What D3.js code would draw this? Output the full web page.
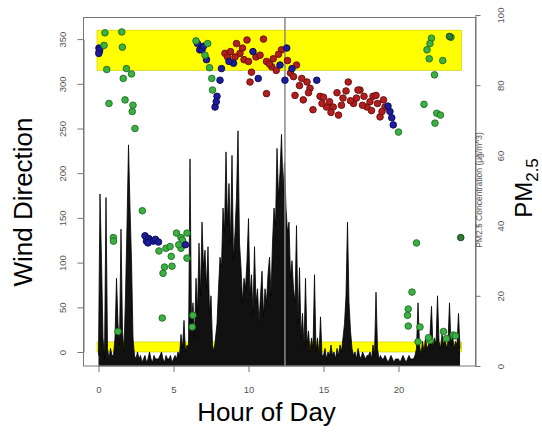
<!DOCTYPE html>
<html><head><meta charset="utf-8">
<script src="https://cdn.jsdelivr.net/npm/d3@7"></script>
<style>
html,body{margin:0;padding:0;background:#fff;}
svg{display:block;font-family:"Liberation Sans",Arial,sans-serif;}
</style></head>
<body><svg id="c" width="542" height="436"></svg>
<script>
// ---- data ----
const hourTicks = [0, 5, 10, 15, 20];
const dirTicks = [0, 50, 100, 150, 200, 250, 300, 350];
const pmTicks = [0, 20, 40, 60, 80, 100];
const dirBands = [[315, 360], [0, 11.25]];
const bandHours = [-0.1, 24.2];
const markerHour = 12.43;

// PM2.5 concentration, one value every 0.1 h from 0.0 to 24.1
const pmValues = [
  3,49,30,8,2,48,5,2,5,3,
  3,8,25,12,6,39,10,4,20,40,
  63,45,30,8,3,2,4,2,3,1,
  2,3,1,2,4,2,1,3,2,2,
  2,3,4,2,1,3,2,2,3,1,
  2,3,2,4,3,9,5,13,4,6,
  5,59,12,18,8,25,15,35,20,41,
  28,33,22,34,15,20,6,4,8,12,
  22,31,28,45,38,61,40,52,35,60,
  30,38,48,67,35,28,18,25,22,30,
  42,20,26,15,34,18,22,12,20,27,
  14,22,18,26,31,20,35,45,40,62,
  48,55,66,50,58,45,38,41,25,30,
  22,18,40,12,28,8,15,5,25,6,
  10,4,8,5,26,4,8,3,14,3,
  3,5,2,4,3,6,3,4,2,5,
  3,6,4,8,12,20,41,18,10,5,
  3,4,2,5,3,2,4,3,2,3,
  3,4,2,6,3,21,5,2,3,2,
  2,3,2,1,2,3,2,1,2,2,
  2,1,2,3,2,1,2,3,2,2,
  2,3,5,18,6,3,7,4,8,5,
  6,9,17,5,8,6,20,7,5,9,
  6,8,5,7,18,6,9,5,7,6,
  15,5
];
const pmHours = pmValues.map((v, i) => i / 10);

// wind direction observations
const windHours = [
  0.03,0.05,0.08,0.02,
  0.43,0.37,0.55,0.7,1.55,1.59,1.86,2.2,1.65,1.77,2.3,2.25,2.43,0.99,1.0,1.3,
  2.92,
  3.1,3.2,3.35,3.5,3.65,3.8,3.3,4.0,
  4.03,4.4,4.3,4.5,4.77,4.85,4.9,5.2,5.5,5.5,5.9,5.9,5.6,5.35,4.25,6.3,6.25,
  5.8,
  6.6,6.75,6.9,7.2,8.2,8.1,7.9,7.77,7.0,7.85,
  7.28,7.1,7.4,7.55,7.6,6.5,
  8.43,8.6,8.8,9.2,9.43,9.6,9.9,9.1,9.7,10.0,10.2,10.1,10.5,10.77,11.0,11.2,11.55,11.65,11.2,11.4,11.85,12.2,12.0,
  13.2,13.1,13.55,13.9,13.65,14.1,14.3,14.77,12.8,13.0,13.4,12.6,14.0,
  9.0,10.3,10.65,12.55,12.1,12.43,12.9,14.55,8.7,
  15.2,15.65,16.0,16.3,16.65,17.0,17.43,17.9,18.3,18.77,19.1,18.9,17.3,18.5,15.0,15.4,15.9,16.5,16.8,17.2,17.6,18.1,18.6,19.0,14.9,15.5,16.2,17.7,18.2,
  19.43,19.65,19.3,19.55,
  20.0,
  22.2,22.1,21.9,22.05,22.95,22.4,23.5,21.7,22.55,22.8,22.43,21.2,20.9,20.65,20.6,20.65,21.43,21.3,23.0,23.2,23.65,22.1,23.8,22.0,
  23.4,24.15
];
const windDirs = [
  340,336,338,334,
  357,343,316,278,358,341,317,311,306,282,276,269,250,128,124,23,
  158,
  130,124,127,125,124,126,122,123,
  113,95,88,116,118,107,96,133,128,116,133,105,125,120,38,41,28,
  120,
  345,338,338,327,317,304,286,274,342,280,
  345,332,318,306,293,348,
  334,330,336,345,334,340,349,330,327,325,313,302,330,332,350,325,319,328,289,322,315,338,333,
  321,287,306,302,282,295,271,286,312,308,298,326,290,
  323,336,306,340,321,304,317,304,325,
  274,274,265,284,302,278,293,274,286,263,274,269,293,287,285,280,290,292,281,284,276,280,278,282,278,268,276,286,270,
  269,254,275,262,
  246,
  351,345,338,328,326,310,352,277,267,265,256,122,67,48,41,29,28,11.5,23,15,19,13,18,16,
  353,128
];
const windGroups = [
  "b","b","b","b",
  "g","g","g","g","g","g","g","g","g","g","g","g","g","g","g","g",
  "g",
  "b","b","b","b","b","b","b","b",
  "g","g","g","g","g","g","g","g","g","g","g","g","g","g","g","g","g",
  "b",
  "b","b","b","b","b","b","b","b","b","b",
  "g","g","g","g","g","g",
  "r","r","r","r","r","r","r","r","r","r","r","r","r","r","r","r","r","r","r","r","r","r","r",
  "r","r","r","r","r","r","r","r","r","r","r","r","r",
  "b","b","b","b","b","b","b","b","b",
  "r","r","r","r","r","r","r","r","r","r","r","r","r","r","r","r","r","r","r","r","r","r","r","r","r","r","r","r","r",
  "b","b","b","b",
  "g",
  "g","g","g","g","g","g","g","g","g","g","g","g","g","g","g","g","g","g","g","g","g","g","g","g",
  "d","d"
];
const groupFill = {g: "#3cb043", b: "#1c1c9c", r: "#b01e1e", d: "#2e7d32"};
const groupStroke = {g: "#1f6e22", b: "#0a0a55", r: "#6a0d0d", d: "#173f18"};

// ---- drawing ----
const svg = d3.select("#c");
const x = d3.scaleLinear().domain([0, 24]).range([98.5, 458.5]);
const yDir = d3.scaleLinear().domain([0, 350]).range([352, 39.1]);
const yPm = d3.scaleLinear().domain([0, 100]).range([366, 15]);
const box = {l: 83.5, r: 475.5, t: 17.5, b: 366};

// yellow bands
svg.append("g").selectAll("rect").data(dirBands).join("rect")
  .attr("x", x(bandHours[0])).attr("width", x(bandHours[1]) - x(bandHours[0]))
  .attr("y", d => yDir(d[1])).attr("height", d => yDir(d[0]) - yDir(d[1]))
  .attr("fill", "#ffff00").attr("stroke", "#c8c800").attr("stroke-width", 0.6);

// PM2.5 series
const pmData = pmValues.map((v, i) => [pmHours[i], v]);
svg.append("path").datum(pmData)
  .attr("d", d3.area().x(d => x(d[0])).y0(yPm(0)).y1(d => yPm(d[1])))
  .attr("fill", "#111");
svg.append("path").datum(pmData)
  .attr("d", d3.line().x(d => x(d[0])).y(d => yPm(d[1])))
  .attr("fill", "none").attr("stroke", "#000").attr("stroke-width", 0.8);

// marker line
svg.append("line")
  .attr("x1", x(markerHour)).attr("x2", x(markerHour))
  .attr("y1", box.t).attr("y2", box.b)
  .attr("stroke", "#8a8a8a").attr("stroke-width", 1.5);

// wind direction points
svg.append("g").selectAll("circle").data(windHours.map((h, i) => ({h, d: windDirs[i], g: windGroups[i]})))
  .join("circle")
  .attr("cx", d => x(d.h)).attr("cy", d => yDir(d.d)).attr("r", 3.3)
  .attr("fill", d => groupFill[d.g]).attr("stroke", d => groupStroke[d.g]).attr("stroke-width", 0.9);

// box
svg.append("rect").attr("x", box.l).attr("y", box.t)
  .attr("width", box.r - box.l).attr("height", box.b - box.t)
  .attr("fill", "none").attr("stroke", "#777").attr("stroke-width", 1);

const tickFont = 9.5;
// left axis
const gL = svg.append("g").attr("transform", `translate(${box.l},0)`)
  .call(d3.axisLeft(yDir).tickValues(dirTicks).tickSize(6).tickSizeOuter(0));
gL.select(".domain").attr("stroke", "#777");
gL.selectAll(".tick line").attr("stroke", "#777");
gL.selectAll(".tick text").attr("x", null).attr("dy", null)
  .attr("text-anchor", "middle").attr("transform", "translate(-18,0) rotate(-90)")
  .attr("fill", "#555").attr("font-size", tickFont).attr("font-family", "Liberation Sans, Arial, sans-serif");

// right axis
const gR = svg.append("g").attr("transform", `translate(${box.r},0)`)
  .call(d3.axisRight(yPm).tickValues(pmTicks).tickSize(5).tickSizeOuter(0));
gR.select(".domain").attr("stroke", "#777");
gR.selectAll(".tick line").attr("stroke", "#777");
gR.selectAll(".tick text").attr("x", null).attr("dy", null)
  .attr("text-anchor", "middle").attr("transform", "translate(28,0) rotate(-90)")
  .attr("fill", "#555").attr("font-size", tickFont).attr("font-family", "Liberation Sans, Arial, sans-serif");

// bottom axis
const gB = svg.append("g").attr("transform", `translate(0,${box.b})`)
  .call(d3.axisBottom(x).tickValues(hourTicks).tickSize(6).tickSizeOuter(0));
gB.select(".domain").remove();
gB.append("line").attr("x1", x(hourTicks[0])).attr("x2", x(hourTicks[hourTicks.length - 1]))
  .attr("stroke", "#777");
gB.selectAll(".tick line").attr("stroke", "#777");
gB.selectAll(".tick text").attr("y", 20).attr("fill", "#555")
  .attr("font-size", tickFont).attr("font-family", "Liberation Sans, Arial, sans-serif");

// titles
svg.append("text").attr("x", 266.5).attr("y", 421).attr("text-anchor", "middle")
  .attr("font-size", 26).attr("fill", "#000").text("Hour of Day");
svg.append("text").attr("transform", "translate(32,202) rotate(-90)").attr("text-anchor", "middle")
  .attr("font-size", 26).attr("fill", "#000").text("Wind Direction");
svg.append("text").attr("transform", "translate(482,190) rotate(-90)").attr("text-anchor", "middle")
  .attr("font-size", 8.5).attr("fill", "#555").text("PM2.5 Concentration (µg/m^3)");
const pmT = svg.append("text").attr("transform", "translate(532,188) rotate(-90)").attr("text-anchor", "middle")
  .attr("font-size", 24).attr("fill", "#000");
pmT.append("tspan").text("PM");
pmT.append("tspan").attr("font-size", 17).attr("dy", 6).text("2.5");
</script></body></html>
